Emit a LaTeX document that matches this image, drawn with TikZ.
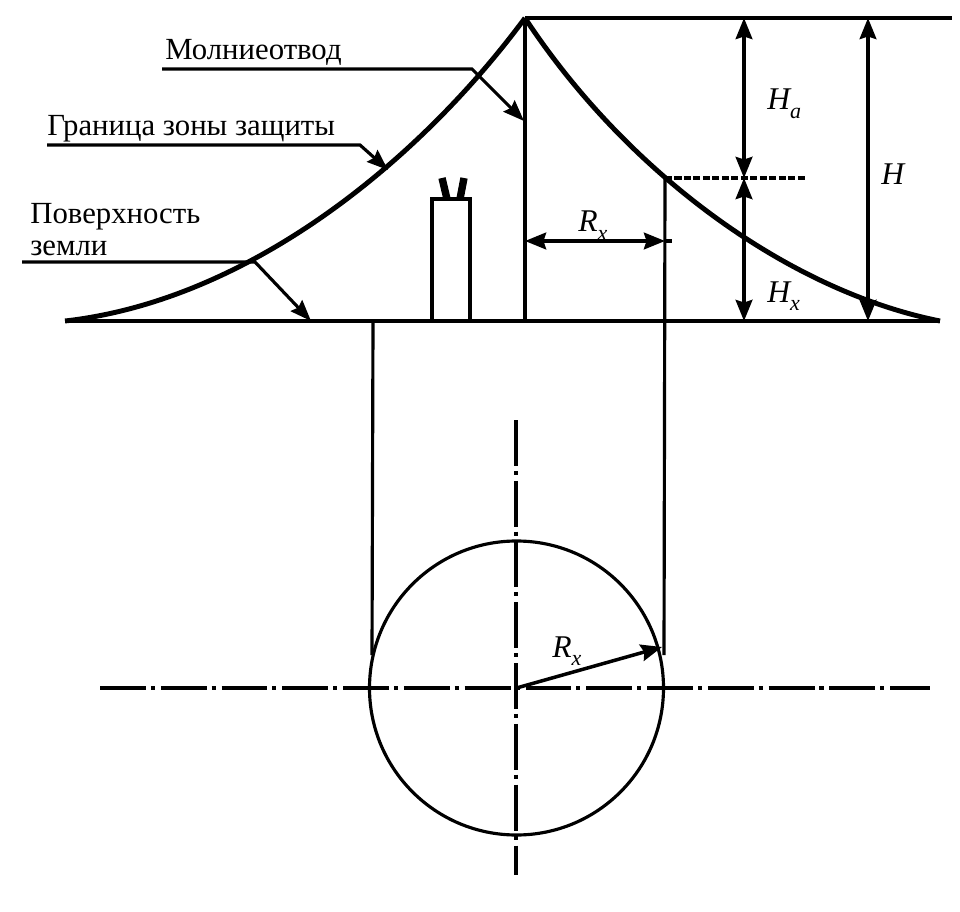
\documentclass[tikz,border=0pt]{standalone}
\usepackage{fontspec}
\setmainfont{Liberation Serif}
\usetikzlibrary{arrows.meta, calc}
\tikzset{
    line/.style={line width=1.8pt},
    heavy/.style={line width=2.8pt},
    axisline/.style={line width=1.8pt, dash pattern=on 26.1pt off 2.8pt on 2.3pt off 3.4pt},
    bigtip/.style={line width=2pt, -{Stealth[length=12pt,width=9.5pt,inset=1.5pt]}},
    dimarrow/.style={line width=2pt, {Stealth[length=12pt,width=9.5pt,inset=1.5pt]}-{Stealth[length=12pt,width=9.5pt,inset=1.5pt]}},
    leader/.style={line width=1.8pt, -{Stealth[length=12pt,width=9pt,inset=1.5pt]}},
    caption/.style={font=\fontsize{17.5pt}{18.2pt}\selectfont, inner sep=0pt, anchor=base west},
    symbol/.style={font=\fontsize{18pt}{20pt}\selectfont\itshape, inner sep=0pt, anchor=base west}
}
\newcommand{\symb}[2]{#1\raisebox{-5pt}{\fontsize{12.5pt}{14pt}\selectfont #2}}
\begin{document}
\begin{tikzpicture}[x=0.02cm, y=-0.02cm]
\useasboundingbox (0,0) rectangle (960,912);
% points of the elevation
\coordinate (top) at (525,18);
\coordinate (topend) at (952,18);
\coordinate (groundL) at (65,321);
\coordinate (groundR) at (940,321);
\coordinate (mastbase) at (525,321);
\coordinate (edge) at (665,178);
\coordinate (center) at (516.5,688);
% ground, top line and boundary of the zone
\draw[heavy] (groundL) -- (groundR);
\draw[heavy] (top) -- (topend);
\draw[heavy] (groundL) .. controls (250,300) and (420,160) .. (top);
\draw[heavy] (top) .. controls (625,170) and (785,290) .. (groundR);
\draw[line] (top) -- (mastbase);
% building
\draw[line] (432,321) rectangle (470,199);
\draw[line width=4.2pt] (442,178) -- (447,199);
\draw[line width=4.2pt] (464,178) -- (460,199);
% height marks
\coordinate (markend) at (805,178);
\draw[line width=2pt, dash pattern=on 4pt off 1.4pt] (edge) -- (markend);
\coordinate (Ha1) at (744,18);
\coordinate (Ha2) at (744,178);
\coordinate (Hx2) at (744,321);
\coordinate (H1) at (868,18);
\coordinate (H2) at (868,321);
\draw[dimarrow] (Ha1) -- (Ha2);
\draw[dimarrow] (Ha2) -- (Hx2);
\draw[dimarrow] (H1) -- (H2);
\coordinate (Rx1) at (525,241);
\coordinate (Rx2) at (665,241);
\coordinate (Rx3) at (672,241);
\draw[dimarrow] (Rx1) -- (Rx2);
\draw[line] (Rx2) -- (Rx3);
\node[symbol] (labelHa) at (767,110) {\symb{H}{a}};
\node[symbol] (labelH) at (881,185) {H};
\node[symbol] (labelHx) at (767,302) {\symb{H}{x}};
\node[symbol] (labelRx) at (578,232) {\symb{R}{x}};
% leaders
\node[caption] (labelrod) at (165,60) {Молниеотвод};
\node[caption] (labelzone) at (47,136) {Граница зоны защиты};
\node[caption, align=left, anchor=north west] (labelground) at (30,203) {Поверхность\\земли};
\coordinate (rodA) at (162,69);
\coordinate (rodB) at (472,69);
\coordinate (rodC) at (524,121);
\coordinate (zoneA) at (47,145);
\coordinate (zoneB) at (360,145);
\coordinate (zoneC) at (388,170);
\coordinate (groundA) at (22,262);
\coordinate (groundB) at (255,262);
\coordinate (groundC) at (311,321);
\draw[leader] (rodA) -- (rodB) -- (rodC);
\draw[leader] (zoneA) -- (zoneB) -- (zoneC);
\draw[leader] (groundA) -- (groundB) -- (groundC);
% projection to the plan
\coordinate (projL) at (373,321);
\coordinate (projLb) at (372,655);
\coordinate (projRb) at (664,655);
\draw[line] (projL) -- (projLb);
\draw[line] (edge) -- (projRb);
% plan
\draw[line] (center) circle (147);
\coordinate (axisL) at (100,688);
\coordinate (axisR) at (930,688);
\coordinate (axisT) at (516,420);
\coordinate (axisB) at (516,875);
\draw[axisline] (axisL) -- (axisR);
\draw[axisline] (axisT) -- (axisB);
\coordinate (radius) at (662,647);
\draw[bigtip] (center) -- (radius);
\node[symbol] (labelRp) at (552,657) {\symb{R}{x}};
\end{tikzpicture}
\end{document}
